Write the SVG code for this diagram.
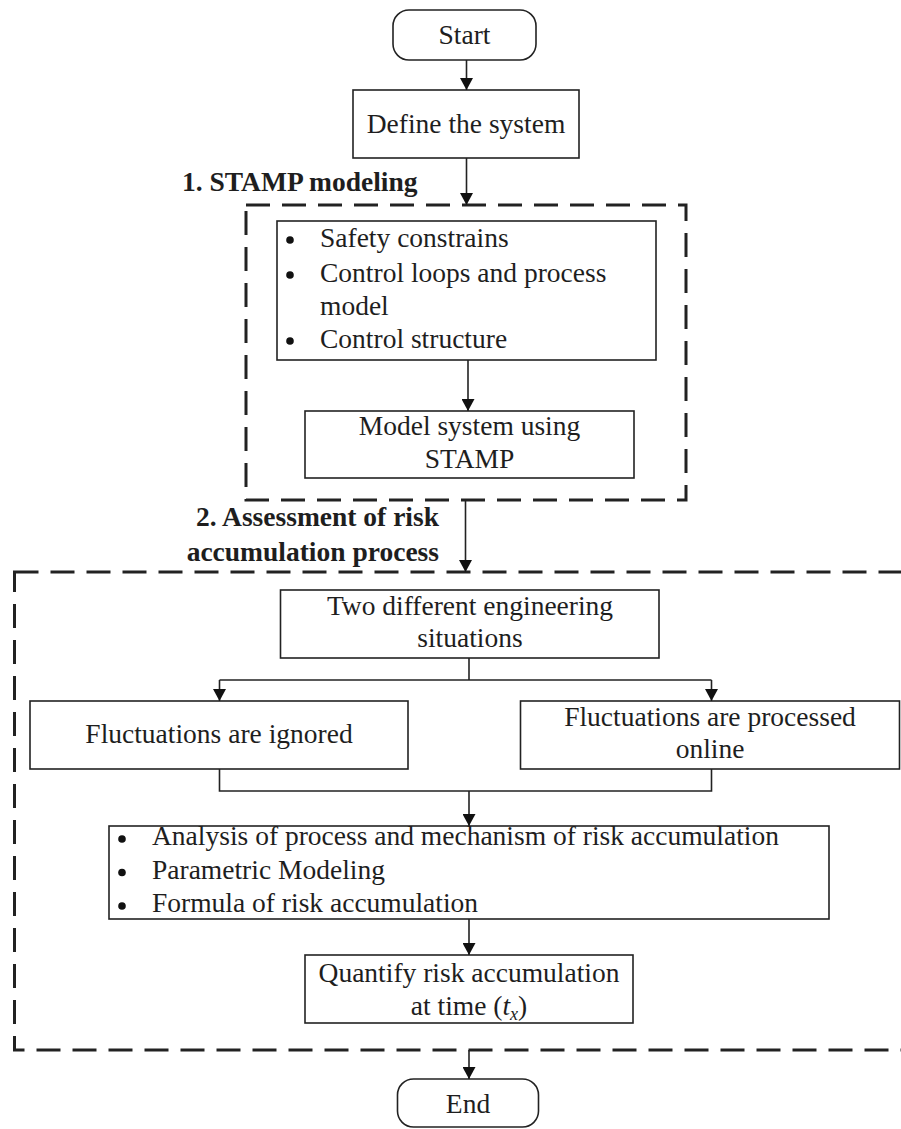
<svg xmlns="http://www.w3.org/2000/svg" width="901" height="1129" viewBox="0 0 901 1129">
<style>
  .box{fill:#fff;stroke:#222;stroke-width:1.6}
  .dash{fill:none;stroke:#222;stroke-width:3;stroke-dasharray:24 12}
  .t{font-family:"Liberation Serif","Times New Roman",serif;font-size:27.5px;fill:#1e1e1e}
  .c{text-anchor:middle}
  .lbl{font-family:"Liberation Serif","Times New Roman",serif;font-size:27.5px;font-weight:bold;fill:#1e1e1e}
  .ln{fill:none;stroke:#222;stroke-width:1.6}
  .dot{fill:#111}
</style>
<defs>
  <marker id="ah" markerUnits="userSpaceOnUse" markerWidth="12" markerHeight="13" refX="12" refY="6.5" orient="auto">
    <path d="M0,0 L12,6.5 L0,13 z" fill="#111"/>
  </marker>
</defs>
<rect width="901" height="1129" fill="#fff"/>

<g id="stamp-region">
  <rect class="dash" x="246" y="205" width="440" height="295"/>
  <text class="lbl" x="182" y="190.5">1. STAMP modeling</text>
</g>
<g id="assessment-region">
  <rect class="dash" x="14.5" y="572" width="900" height="478"/>
  <text class="lbl" x="439" y="526" text-anchor="end">2. Assessment of risk</text>
  <text class="lbl" x="439" y="560.5" text-anchor="end">accumulation process</text>
</g>

<g id="start">
  <rect class="box" x="393" y="10" width="143" height="50" rx="16"/>
  <text class="t c" x="464.5" y="43.5">Start</text>
</g>
<g id="define">
  <rect class="box" x="353" y="90" width="226" height="68"/>
  <text class="t c" x="466" y="133">Define the system</text>
</g>
<g id="stamp-items">
  <rect class="box" x="277" y="221" width="379" height="139"/>
  <circle class="dot" cx="290" cy="240" r="3.8"/>
  <text class="t" x="320" y="247">Safety constrains</text>
  <circle class="dot" cx="290" cy="275" r="3.8"/>
  <text class="t" x="320" y="282">Control loops and process</text>
  <text class="t" x="320" y="315">model</text>
  <circle class="dot" cx="290" cy="341" r="3.8"/>
  <text class="t" x="320" y="348">Control structure</text>
</g>
<g id="model-system">
  <rect class="box" x="305" y="411" width="329" height="67"/>
  <text class="t c" x="469.5" y="435">Model system using</text>
  <text class="t c" x="469.5" y="468">STAMP</text>
</g>
<g id="two-situations">
  <rect class="box" x="280.5" y="590" width="378.5" height="68"/>
  <text class="t c" x="470" y="615">Two different engineering</text>
  <text class="t c" x="470" y="647">situations</text>
</g>
<g id="ignored">
  <rect class="box" x="30" y="701" width="378" height="68"/>
  <text class="t c" x="219" y="743">Fluctuations are ignored</text>
</g>
<g id="online">
  <rect class="box" x="520.5" y="701" width="379" height="68"/>
  <text class="t c" x="710" y="726">Fluctuations are processed</text>
  <text class="t c" x="710" y="758">online</text>
</g>
<g id="analysis">
  <rect class="box" x="109" y="826" width="720" height="93"/>
  <circle class="dot" cx="122" cy="839" r="3.8"/>
  <text class="t" x="152" y="845">Analysis of process and mechanism of risk accumulation</text>
  <circle class="dot" cx="122" cy="872.5" r="3.8"/>
  <text class="t" x="152" y="878.5">Parametric Modeling</text>
  <circle class="dot" cx="122" cy="906" r="3.8"/>
  <text class="t" x="152" y="912">Formula of risk accumulation</text>
</g>
<g id="quantify">
  <rect class="box" x="305" y="955" width="328" height="68"/>
  <text class="t c" x="469" y="981.5">Quantify risk accumulation</text>
  <text class="t c" x="469" y="1015">at time (<tspan font-style="italic">t</tspan><tspan font-style="italic" font-size="18" dy="5">x</tspan><tspan dy="-5">)</tspan></text>
</g>
<g id="end">
  <rect class="box" x="397.5" y="1079" width="141" height="48" rx="16"/>
  <text class="t c" x="468" y="1113">End</text>
</g>

<g id="connectors">
  <line class="ln" x1="466.5" y1="60" x2="466.5" y2="90" marker-end="url(#ah)"/>
  <line class="ln" x1="466.5" y1="158" x2="466.5" y2="205" marker-end="url(#ah)"/>
  <line class="ln" x1="468" y1="360" x2="468" y2="411" marker-end="url(#ah)"/>
  <line class="ln" x1="465.5" y1="500" x2="465.5" y2="572" marker-end="url(#ah)"/>
  <polyline class="ln" points="469,658 469,680"/>
  <polyline class="ln" points="219.5,680 711.5,680"/>
  <line class="ln" x1="219.5" y1="680" x2="219.5" y2="701" marker-end="url(#ah)"/>
  <line class="ln" x1="711.5" y1="680" x2="711.5" y2="701" marker-end="url(#ah)"/>
  <polyline class="ln" points="219.5,769 219.5,791 711.5,791 711.5,769"/>
  <line class="ln" x1="469" y1="791" x2="469" y2="826" marker-end="url(#ah)"/>
  <line class="ln" x1="469" y1="919" x2="469" y2="955" marker-end="url(#ah)"/>
  <line class="ln" x1="469" y1="1050" x2="469" y2="1079" marker-end="url(#ah)"/>
</g>
</svg>
